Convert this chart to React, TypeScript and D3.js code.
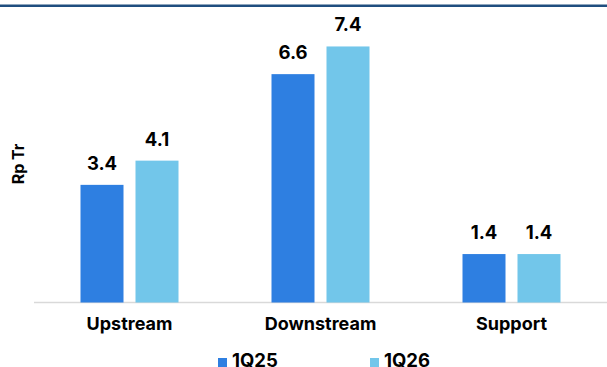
import React from "react";
import * as d3 from "d3";

const categories = ["Upstream", "Downstream", "Support"];
const seriesNames = ["1Q25", "1Q26"];
const values1Q25 = [3.4, 6.6, 1.4];
const values1Q26 = [4.1, 7.4, 1.4];
const seriesColors = ["#2E7FE1", "#72C6EA"];
const yAxisTitle = "Rp Tr";

const W = 607;
const H = 367;
const FONT = "Inter, 'Noto Sans', Arial, sans-serif";

export default function App() {
  const x0 = d3.scaleBand<string>().domain(categories).range([34, 607]).paddingInner(0).paddingOuter(0);
  const x1 = d3.scaleBand<string>().domain(seriesNames).range([0, 98]).paddingInner(12 / 55).paddingOuter(0);
  const y = d3.scaleLinear().domain([0, 8]).range([302.5, 25.7]);
  const series = [values1Q25, values1Q26];
  const groupOffset = (x0.bandwidth() - 98) / 2;

  return (
    <div style={{ position: "fixed", left: 0, top: 0, width: W, height: H, background: "#fff" }}>
      <svg width={W} height={H} style={{ display: "block" }} fontFamily={FONT}>
        <rect x={0} y={4.5} width={W} height={2.5} fill="#1F4E7F" />
        <line x1={34} x2={607} y1={y(0)} y2={y(0)} stroke="#D9D9D9" strokeWidth={1.5} />
        {categories.map((c, i) => (
          <g key={c} transform={`translate(${(x0(c) ?? 0) + groupOffset},0)`}>
            {seriesNames.map((s, j) => {
              const v = series[j][i];
              const bx = x1(s) ?? 0;
              const bw = x1.bandwidth();
              return (
                <g key={s}>
                  <rect x={bx} y={y(v)} width={bw} height={y(0) - y(v)} fill={seriesColors[j]} />
                  <text
                    x={bx + bw / 2}
                    y={y(v) - 15}
                    textAnchor="middle"
                    fontSize={18.5}
                    fontWeight={700}
                    fill="#000"
                  >
                    {v.toFixed(1)}
                  </text>
                </g>
              );
            })}
          </g>
        ))}
        {categories.map((c) => (
          <text
            key={c}
            x={(x0(c) ?? 0) + x0.bandwidth() / 2}
            y={330}
            textAnchor="middle"
            fontSize={18}
            fontWeight={700}
            fill="#000"
          >
            {c}
          </text>
        ))}
        <text
          transform={`translate(24,164) rotate(-90)`}
          textAnchor="middle"
          fontSize={16}
          fontWeight={700}
          fill="#000"
        >
          {yAxisTitle}
        </text>
        {seriesNames.map((s, j) => {
          const lx = 218 + j * 152;
          return (
            <g key={s}>
              <rect x={lx} y={358} width={9} height={9} fill={seriesColors[j]} />
              <text x={lx + 14} y={366.5} fontSize={18.5} fontWeight={700} fill="#000">
                {s}
              </text>
            </g>
          );
        })}
      </svg>
    </div>
  );
}
